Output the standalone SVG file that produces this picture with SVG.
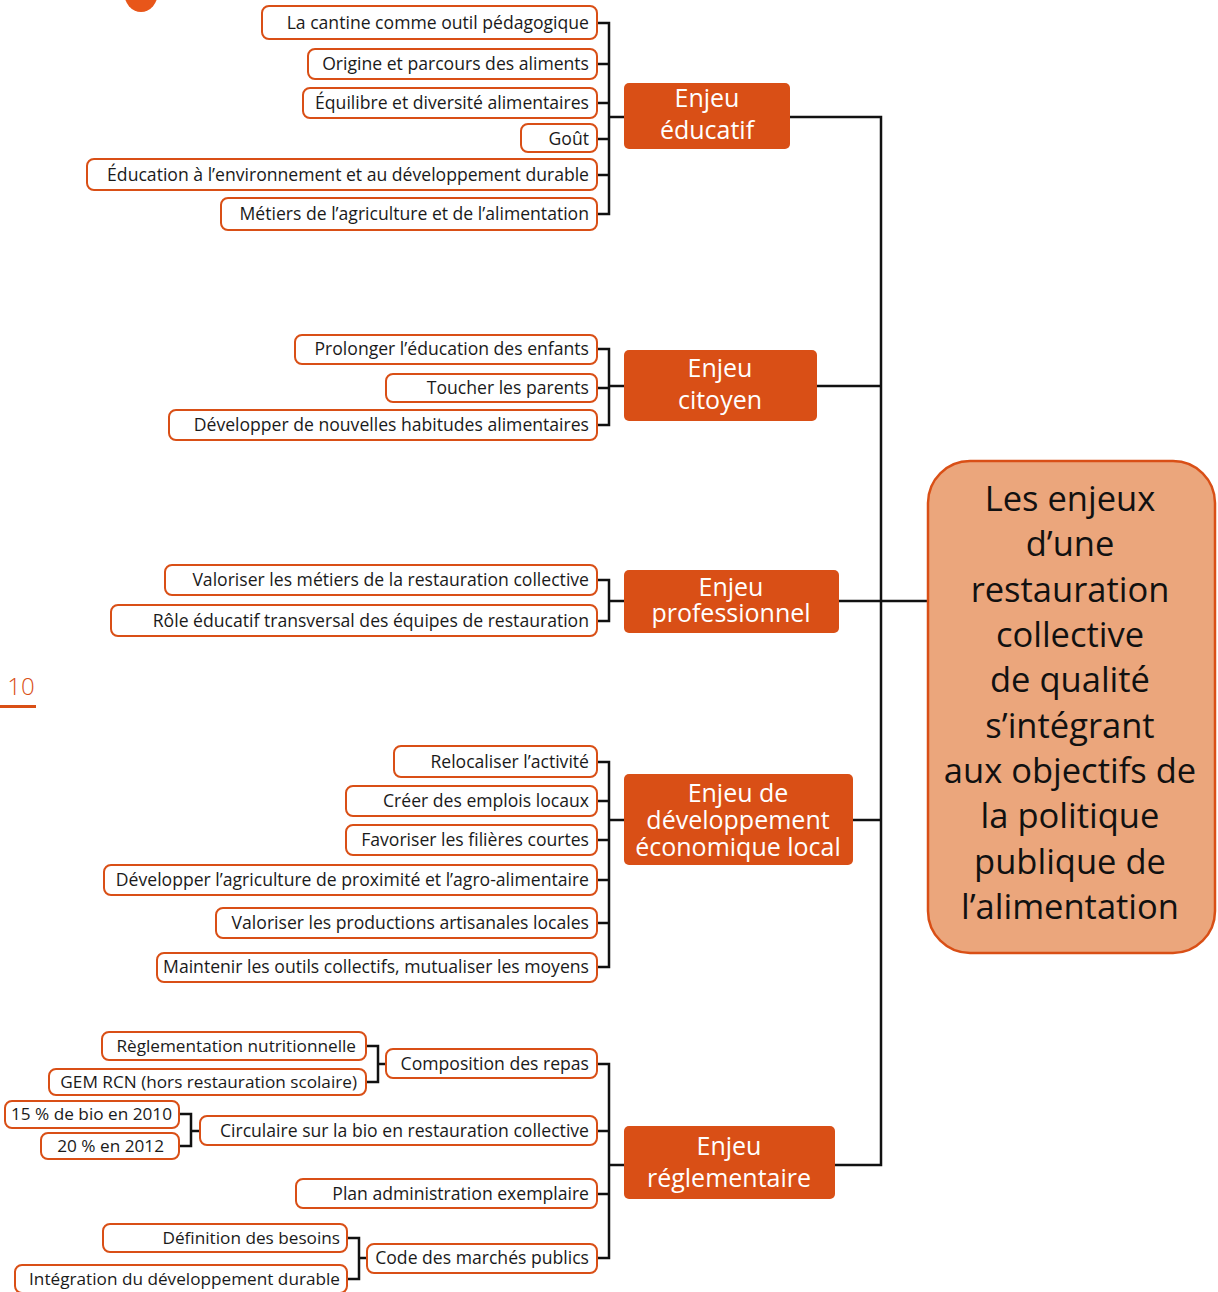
<svg xmlns="http://www.w3.org/2000/svg" width="1218" height="1292" viewBox="0 0 1218 1292">
<style>
.leaf rect{fill:#fff;stroke:#D94F16;stroke-width:2;}
.leaf text{font-family:"Open Sans","Liberation Sans",sans-serif;font-size:17.6px;fill:#1a1a1a;text-anchor:end;}
.sub text{font-size:17.2px;}
.enjeu rect{fill:#D94F16;}
.enjeu text{font-family:"Open Sans","Liberation Sans",sans-serif;font-size:25px;fill:#fff;text-anchor:middle;}
.conn path{stroke:#111;stroke-width:2.5;fill:none;}
.center rect{fill:#EBA67C;stroke:#D94F16;stroke-width:2.5;}
.center text{font-family:"Open Sans","Liberation Sans",sans-serif;font-size:34.5px;fill:#111;text-anchor:middle;}
</style>
<rect width="1218" height="1292" fill="#fff"/>
<ellipse cx="141" cy="-8" rx="17" ry="20" fill="#E8561A"/>
<g id="page-number">
<text x="21" y="695" font-family="Open Sans, Liberation Sans, sans-serif" font-size="24" font-weight="300" fill="#D94F16" text-anchor="middle">10</text>
<rect x="0" y="705" width="36" height="3" fill="#D94F16"/>
</g>
<g class="conn" id="connectors">
<path d="M790,117 H881 V1165 H835"/>
<path d="M817,386 H881"/>
<path d="M839,601 H927"/>
<path d="M853,820 H881"/>
<path d="M597,23 H609 V214 H597 M597,64 H609 M597,103 H609 M597,139 H609 M597,175 H609 M609,117 H624"/>
<path d="M597,349 H609 V425 H597 M597,388 H609 M609,386 H624"/>
<path d="M597,580 H609 V621 H597 M609,601 H624"/>
<path d="M597,762 H609 V967 H597 M597,801 H609 M597,840 H609 M597,880 H609 M597,923 H609 M609,820 H624"/>
<path d="M597,1064 H609 V1258 H597 M597,1131 H609 M597,1194 H609 M609,1165 H624"/>
<path d="M366,1046 H378 V1082 H366 M378,1064 H386"/>
<path d="M179,1114 H191 V1146 H179 M191,1131 H200"/>
<path d="M347,1238 H359 V1279 H347 M359,1258 H367"/>
</g>
<g class="center" id="center">
<rect x="928" y="461" width="287" height="492" rx="42"/>
<text x="1070" y="511">Les enjeux</text>
<text x="1070" y="556">d’une</text>
<text x="1070" y="602">restauration</text>
<text x="1070" y="647">collective</text>
<text x="1070" y="692">de qualité</text>
<text x="1070" y="738">s’intégrant</text>
<text x="1070" y="783">aux objectifs de</text>
<text x="1070" y="828">la politique</text>
<text x="1070" y="874">publique de</text>
<text x="1070" y="919">l’alimentation</text>
</g>
<g class="enjeu" id="enjeu-educatif"><rect x="624" y="83" width="166" height="66" rx="5"/><text x="707" y="107">Enjeu</text><text x="707" y="139">éducatif</text></g>
<g class="enjeu" id="enjeu-citoyen"><rect x="624" y="350" width="193" height="71" rx="5"/><text x="720" y="377">Enjeu</text><text x="720" y="409">citoyen</text></g>
<g class="enjeu" id="enjeu-professionnel"><rect x="624" y="570" width="215" height="63" rx="5"/><text x="731" y="596">Enjeu</text><text x="731" y="622">professionnel</text></g>
<g class="enjeu" id="enjeu-developpement"><rect x="624" y="774" width="229" height="91" rx="5"/><text x="738" y="802">Enjeu de</text><text x="738" y="829">développement</text><text x="738" y="856">économique local</text></g>
<g class="enjeu" id="enjeu-reglementaire"><rect x="624" y="1126" width="211" height="73" rx="5"/><text x="729" y="1155">Enjeu</text><text x="729" y="1187">réglementaire</text></g>
<g class="leaf" id="l1"><rect x="262" y="6" width="335" height="33" rx="7"/><text x="589" y="29">La cantine comme outil pédagogique</text></g>
<g class="leaf" id="l2"><rect x="308" y="49" width="289" height="30" rx="7"/><text x="589" y="70">Origine et parcours des aliments</text></g>
<g class="leaf" id="l3"><rect x="303" y="88" width="294" height="30" rx="7"/><text x="589" y="109">Équilibre et diversité alimentaires</text></g>
<g class="leaf" id="l4"><rect x="521" y="124" width="76" height="28" rx="7"/><text x="589" y="145">Goût</text></g>
<g class="leaf" id="l5"><rect x="87" y="159" width="510" height="31" rx="7"/><text x="589" y="181">Éducation à l’environnement et au développement durable</text></g>
<g class="leaf" id="l6"><rect x="221" y="198" width="376" height="32" rx="7"/><text x="589" y="220">Métiers de l’agriculture et de l’alimentation</text></g>
<g class="leaf" id="l7"><rect x="295" y="335" width="302" height="29" rx="7"/><text x="589" y="355">Prolonger l’éducation des enfants</text></g>
<g class="leaf" id="l8"><rect x="386" y="374" width="211" height="28" rx="7"/><text x="589" y="394">Toucher les parents</text></g>
<g class="leaf" id="l9"><rect x="169" y="410" width="428" height="30" rx="7"/><text x="589" y="431">Développer de nouvelles habitudes alimentaires</text></g>
<g class="leaf" id="l10"><rect x="165" y="565" width="432" height="30" rx="7"/><text x="589" y="586">Valoriser les métiers de la restauration collective</text></g>
<g class="leaf" id="l11"><rect x="111" y="605" width="486" height="31" rx="7"/><text x="589" y="627">Rôle éducatif transversal des équipes de restauration</text></g>
<g class="leaf" id="l12"><rect x="394" y="746" width="203" height="31" rx="7"/><text x="589" y="768">Relocaliser l’activité</text></g>
<g class="leaf" id="l13"><rect x="346" y="786" width="251" height="30" rx="7"/><text x="589" y="807">Créer des emplois locaux</text></g>
<g class="leaf" id="l14"><rect x="346" y="825" width="251" height="30" rx="7"/><text x="589" y="846">Favoriser les filières courtes</text></g>
<g class="leaf" id="l15"><rect x="104" y="865" width="493" height="30" rx="7"/><text x="589" y="886">Développer l’agriculture de proximité et l’agro-alimentaire</text></g>
<g class="leaf" id="l16"><rect x="216" y="908" width="381" height="30" rx="7"/><text x="589" y="929">Valoriser les productions artisanales locales</text></g>
<g class="leaf" id="l17"><rect x="157" y="953" width="440" height="29" rx="7"/><text x="589" y="973">Maintenir les outils collectifs, mutualiser les moyens</text></g>
<g class="leaf" id="l18"><rect x="386" y="1049" width="211" height="29" rx="7"/><text x="589" y="1070">Composition des repas</text></g>
<g class="leaf" id="l19"><rect x="200" y="1116" width="397" height="29" rx="7"/><text x="589" y="1137">Circulaire sur la bio en restauration collective</text></g>
<g class="leaf" id="l20"><rect x="296" y="1179" width="301" height="29" rx="7"/><text x="589" y="1200">Plan administration exemplaire</text></g>
<g class="leaf" id="l21"><rect x="367" y="1244" width="230" height="29" rx="7"/><text x="589" y="1264">Code des marchés publics</text></g>
<g class="leaf sub" id="l22"><rect x="102" y="1032" width="264" height="28" rx="7"/><text x="356" y="1052">Règlementation nutritionnelle</text></g>
<g class="leaf sub" id="l23"><rect x="49" y="1069" width="317" height="26" rx="7"/><text x="357" y="1088">GEM RCN (hors restauration scolaire)</text></g>
<g class="leaf sub" id="l24"><rect x="5" y="1101" width="174" height="27" rx="7"/><text x="172" y="1120">15 % de bio en 2010</text></g>
<g class="leaf sub" id="l25"><rect x="41" y="1133" width="138" height="26" rx="7"/><text x="164" y="1152">20 % en 2012</text></g>
<g class="leaf sub" id="l26"><rect x="103" y="1224" width="244" height="28" rx="7"/><text x="340" y="1244">Définition des besoins</text></g>
<g class="leaf sub" id="l27"><rect x="15" y="1265" width="332" height="28" rx="7"/><text x="340" y="1285">Intégration du développement durable</text></g>
</svg>
